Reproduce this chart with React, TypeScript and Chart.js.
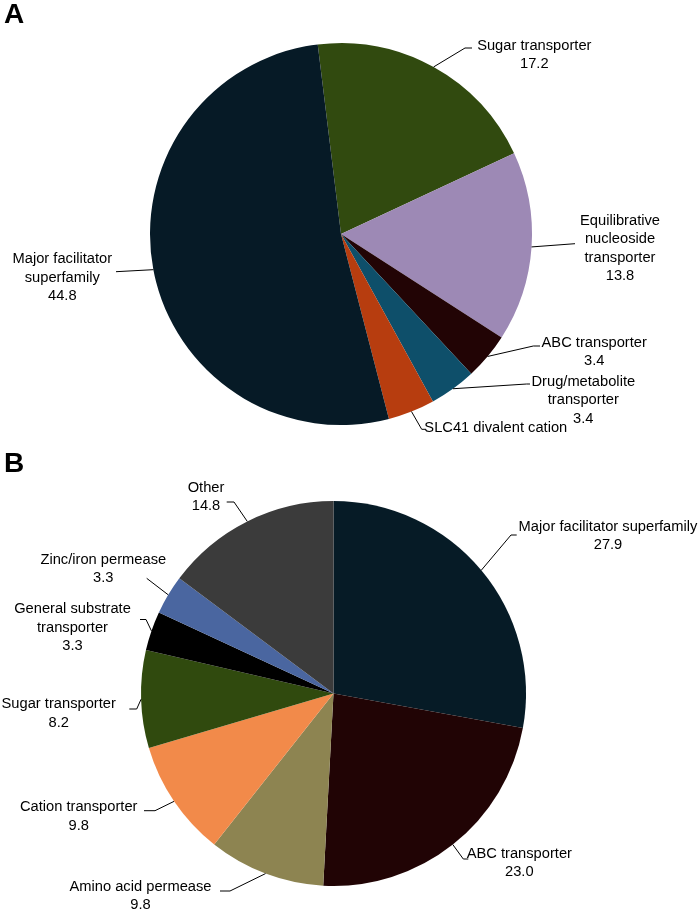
import { useEffect, useRef } from "react";
import { Chart, registerables } from "chart.js";

Chart.register(...registerables);

// ---- Panel A data ----
const categoriesA = [
  "Sugar transporter",
  "Equilibrative\nnucleoside\ntransporter",
  "ABC transporter",
  "Drug/metabolite\ntransporter",
  "SLC41 divalent cation",
  "Major facilitator\nsuperfamily",
];
const valuesA = [17.2, 13.8, 3.4, 3.4, 3.4, 44.8];
const showValueA = [true, true, true, true, false, true];
const colorsA = ["#314a0f", "#9d89b5", "#220405", "#0e4f6a", "#b73d0f", "#061a26"];

// ---- Panel B data ----
const categoriesB = [
  "Major facilitator superfamily",
  "ABC transporter",
  "Amino acid permease",
  "Cation transporter",
  "Sugar transporter",
  "General substrate\ntransporter",
  "Zinc/iron permease",
  "Other",
];
const valuesB = [27.9, 23.0, 9.8, 9.8, 8.2, 3.3, 3.3, 14.8];
const showValueB = [true, true, true, true, true, true, true, true];
const colorsB = ["#061b26", "#210405", "#8d8451", "#f28a4a", "#304a0e", "#000000", "#4a66a0", "#3b3b3b"];

// ---- Label layout (offsets relative to pie centre) ----
type Lay = { elbow: [number, number]; end: [number, number]; text: [number, number] };
const layoutA: Lay[] = [
  { elbow: [124, -186], end: [131, -186], text: [193.3, -188] },
  { elbow: [234, 9.7], end: [234, 9.7], text: [279, -13] },
  { elbow: [192.3, 112], end: [199, 112], text: [253.2, 109] },
  { elbow: [185.7, 150], end: [189, 150], text: [242.3, 147.7] },
  { elbow: [80.7, 195.3], end: [85, 195.3], text: [154.8, 193.7] },
  { elbow: [-225, 37.7], end: [-225, 37.7], text: [-278.7, 25.3] },
];
const layoutB: Lay[] = [
  { elbow: [177.5, -158.5], end: [183.2, -158.5], text: [274.5, -166.8] },
  { elbow: [129.8, 165.5], end: [134.8, 165.5], text: [185.8, 160.5] },
  { elbow: [-103.5, 197.5], end: [-113.5, 197.5], text: [-193, 193.2] },
  { elbow: [-178.5, 117.2], end: [-189.5, 117.2], text: [-254.8, 113.8] },
  { elbow: [-196.8, 15.5], end: [-204.2, 15.5], text: [-274.8, 10.8] },
  { elbow: [-187.5, -74], end: [-193.5, -74], text: [-261, -84.2] },
  { elbow: [-186.8, -115.2], end: [-186.8, -115.2], text: [-230.2, -133.5] },
  { elbow: [-99.5, -191.5], end: [-106.8, -191.5], text: [-127.5, -205.8] },
];

const FONT = "14.7px 'Liberation Sans', Arial, sans-serif";
const LETTER_FONT = "bold 28px 'Liberation Sans', Arial, sans-serif";
const LINE_H = 18.4;

function makeLabelPlugin(layout: Lay[], showValue: boolean[], letter: string, letterY: number) {
  return {
    id: "leaderLabels" + letter,
    afterDraw(chart: any) {
      const ctx = chart.ctx as CanvasRenderingContext2D;
      const meta = chart.getDatasetMeta(0);
      const labels = chart.data.labels as string[];
      const values = chart.data.datasets[0].data as number[];
      ctx.save();
      ctx.strokeStyle = "#000";
      ctx.lineWidth = 1;
      ctx.fillStyle = "#000";
      ctx.font = FONT;
      ctx.textAlign = "center";
      ctx.textBaseline = "middle";
      meta.data.forEach((el: any, i: number) => {
        const p = el.getProps(["x", "y", "startAngle", "endAngle", "outerRadius"], true);
        const mid = (p.startAngle + p.endAngle) / 2;
        const sx = p.x + Math.cos(mid) * p.outerRadius;
        const sy = p.y + Math.sin(mid) * p.outerRadius;
        const L = layout[i];
        ctx.beginPath();
        ctx.moveTo(sx, sy);
        ctx.lineTo(p.x + L.elbow[0], p.y + L.elbow[1]);
        ctx.lineTo(p.x + L.end[0], p.y + L.end[1]);
        ctx.stroke();
        const lines = String(labels[i]).split("\n");
        if (showValue[i]) lines.push(values[i].toFixed(1));
        lines.forEach((t, k) => {
          ctx.fillText(t, p.x + L.text[0], p.y + L.text[1] + k * LINE_H);
        });
      });
      ctx.font = LETTER_FONT;
      ctx.textAlign = "left";
      ctx.textBaseline = "alphabetic";
      ctx.fillText(letter, 4, letterY);
      ctx.restore();
    },
  };
}

function makeChart(
  canvas: HTMLCanvasElement,
  labels: string[],
  values: number[],
  colors: string[],
  rotation: number,
  radius: number,
  padding: { left: number; right: number; top: number; bottom: number },
  plugin: any
) {
  return new Chart(canvas, {
    type: "pie",
    data: {
      labels,
      datasets: [
        {
          data: values,
          backgroundColor: colors,
          borderWidth: 0,
          hoverOffset: 0,
          offset: 0,
        },
      ],
    },
    options: {
      responsive: false,
      animation: false,
      events: [],
      rotation,
      radius,
      layout: { padding },
      plugins: {
        legend: { display: false },
        tooltip: { enabled: false },
      },
    },
    plugins: [plugin],
  });
}

export default function App() {
  const refA = useRef<HTMLCanvasElement>(null);
  const refB = useRef<HTMLCanvasElement>(null);

  useEffect(() => {
    const a = makeChart(
      refA.current!,
      categoriesA,
      valuesA,
      colorsA,
      -7,
      191,
      { left: 150, right: 168, top: 43, bottom: 15 },
      makeLabelPlugin(layoutA, showValueA, "A", 23)
    );
    const b = makeChart(
      refB.current!,
      categoriesB,
      valuesB,
      colorsB,
      0,
      192.5,
      { left: 141, right: 174, top: 61, bottom: 26 },
      makeLabelPlugin(layoutB, showValueB, "B", 32)
    );
    return () => {
      a.destroy();
      b.destroy();
    };
  }, []);

  return (
    <div style={{ position: "absolute", left: 0, top: 0, width: 700, height: 912, background: "#fff" }}>
      <canvas
        ref={refA}
        width={700}
        height={440}
        style={{ position: "absolute", left: 0, top: 0, width: 700, height: 440 }}
      />
      <canvas
        ref={refB}
        width={700}
        height={472}
        style={{ position: "absolute", left: 0, top: 440, width: 700, height: 472 }}
      />
    </div>
  );
}
